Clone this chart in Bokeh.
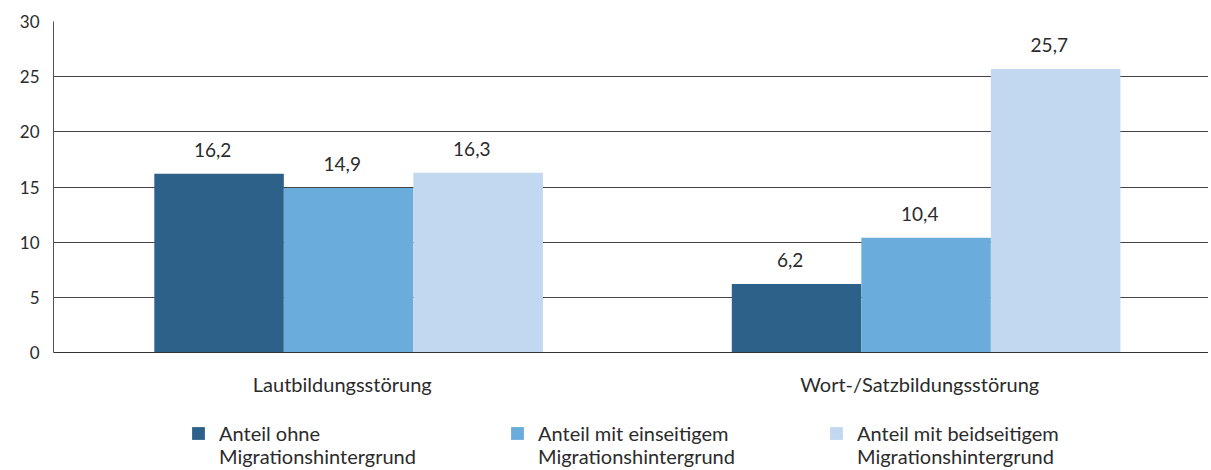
from bokeh.plotting import figure
from bokeh.layouts import column
from bokeh.models import ColumnDataSource, FactorRange, LabelSet, Legend, LegendItem, FixedTicker
from bokeh.core.properties import value
from bokeh.transform import dodge
from bokeh.embed import file_html
from bokeh.resources import INLINE

categories = ["Lautbildungsstörung", "Wort-/Satzbildungsstörung"]
series_line1 = ["Anteil ohne", "Anteil mit einseitigem", "Anteil mit beidseitigem"]
series_line2 = ["Migrationshintergrund", "Migrationshintergrund", "Migrationshintergrund"]
ohne = [16.2, 6.2]
einseitig = [14.9, 10.4]
beidseitig = [16.3, 25.7]
y_ticks = [0, 5, 10, 15, 20, 25, 30]

colors = ["#2e6189", "#6aacdc", "#c2d8f0"]
FONT = "Lato"
TXT = "#2b2b2b"
W = 1208

def fmt(v):
    return ("%.1f" % v).replace(".", ",")

src = ColumnDataSource(dict(
    cat=categories,
    ohne=ohne, einseitig=einseitig, beidseitig=beidseitig,
    l_ohne=[fmt(v) for v in ohne],
    l_einseitig=[fmt(v) for v in einseitig],
    l_beidseitig=[fmt(v) for v in beidseitig],
))

xr = FactorRange(*categories, range_padding=0)
p = figure(x_range=xr, y_range=(0, 30),
           width=W, height=410, output_backend="svg", toolbar_location=None,
           min_border_left=53, min_border_right=0, min_border_top=21, min_border_bottom=58)
p.outline_line_color = None

bw = 0.2243
shift = 0.011
keys = ["ohne", "einseitig", "beidseitig"]
offsets = [-bw, 0, bw]
for key, off, c in zip(keys, offsets, colors):
    p.vbar(x=dodge("cat", off + shift, range=xr), top=key, width=bw, source=src,
           fill_color=c, line_color=None)
    lab = LabelSet(x=dodge("cat", off, range=xr), y=key, text="l_" + key, source=src,
                   text_align="center", text_baseline="alphabetic", y_offset=17,
                   text_font=value(FONT), text_font_size="19px", text_color=TXT)
    p.add_layout(lab)

p.yaxis.ticker = FixedTicker(ticks=y_ticks)
p.yaxis.major_tick_line_color = None
p.yaxis.minor_tick_line_color = None
p.yaxis.axis_line_color = "#555555"
p.yaxis.major_label_text_font = FONT
p.yaxis.major_label_text_font_size = "17px"
p.yaxis.major_label_text_color = TXT
p.yaxis.major_label_standoff = 8

p.xaxis.major_tick_line_color = None
p.xaxis.axis_line_color = "#333333"
p.xaxis.major_label_text_font = FONT
p.xaxis.major_label_text_font_size = "20px"
p.xaxis.major_label_text_color = TXT
p.xaxis.major_label_standoff = 13

p.xgrid.grid_line_color = None
p.ygrid.grid_line_color = "#444444"
p.ygrid.grid_line_width = 1.2

# legend strip
pl = figure(x_range=xr, y_range=(-2, -1), width=W, height=60, output_backend="svg",
            toolbar_location=None, min_border=0)
pl.axis.visible = False
pl.grid.grid_line_color = None
pl.outline_line_color = None
swatches = [pl.vbar(x=dodge("cat", off, range=xr), top=key, width=bw, source=src,
                    fill_color=c, line_color=None, visible=False)
            for key, off, c in zip(keys, offsets, colors)]
ghosts = [pl.vbar(x=dodge("cat", off, range=xr), top=key, width=bw, source=src,
                  fill_alpha=0, line_alpha=0, visible=False)
          for key, off in zip(keys, offsets)]

common = dict(orientation="horizontal", label_text_font=FONT, label_text_font_size="20px",
              label_text_color=TXT, glyph_width=16, glyph_height=16, label_standoff=13,
              label_width=270, spacing=20, border_line_color=None, background_fill_alpha=0,
              margin=0, padding=0)
leg1 = Legend(items=[LegendItem(label=n, renderers=[r]) for n, r in zip(series_line1, swatches)],
              location=(137, 25), **common)
leg2 = Legend(items=[LegendItem(label=n, renderers=[r]) for n, r in zip(series_line2, ghosts)],
              location=(137, 2), **common)
pl.add_layout(leg1)
pl.add_layout(leg2)

open("out.html", "w").write(file_html(column(p, pl, spacing=0), INLINE))
